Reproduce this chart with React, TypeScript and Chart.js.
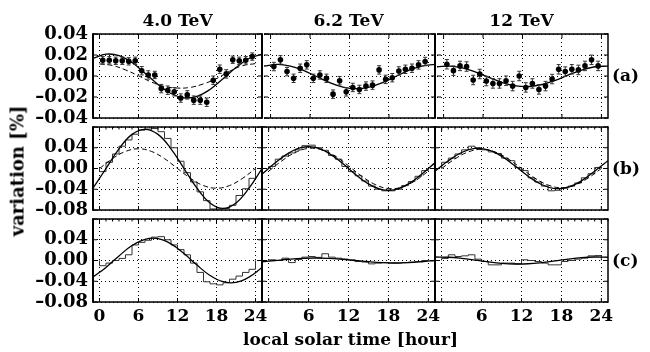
import React, { useEffect, useRef } from 'react';
import { Chart, registerables } from 'chart.js';

Chart.register(...registerables);

const energies = ['4.0 TeV', '6.2 TeV', '12 TeV'];
const rowTags = ['(a)', '(b)', '(c)'];
const xTitle = 'local solar time [hour]';
const yTitle = 'variation [%]';

const xTickValues = [0, 6, 12, 18, 24];
const yTicksA = [-0.04, -0.02, 0, 0.02, 0.04];
const yTicksBC = [-0.08, -0.04, 0, 0.04, 0.08];

const binCentres = [0.5, 1.5, 2.5, 3.5, 4.5, 5.5, 6.5, 7.5, 8.5, 9.5, 10.5, 11.5, 12.5, 13.5, 14.5, 15.5, 16.5, 17.5, 18.5, 19.5, 20.5, 21.5, 22.5, 23.5];
const binEdges = [0, 1, 2, 3, 4, 5, 6, 7, 8, 9, 10, 11, 12, 13, 14, 15, 16, 17, 18, 19, 20, 21, 22, 23, 24];
const fitHours = [-1, 1, 3, 5, 7, 9, 11, 13, 15, 17, 19, 21, 23, 25];
const dashHours = [0, 2, 4, 6, 8, 10, 12, 14, 16, 18, 20, 22, 24];

const pts4 = [0.015, 0.015, 0.0145, 0.0145, 0.014, 0.0145, 0.005, 0.001, 0.001, -0.012, -0.0135, -0.015, -0.021, -0.018, -0.023, -0.023, -0.025, -0.004, 0.0065, 0.002, 0.0155, 0.0145, 0.015, 0.0185];
const err4 = [0.0035, 0.0035, 0.0035, 0.0035, 0.0035, 0.0035, 0.004, 0.004, 0.0035, 0.004, 0.004, 0.004, 0.004, 0.004, 0.004, 0.004, 0.004, 0.004, 0.004, 0.004, 0.0035, 0.0035, 0.0035, 0.0035];
const pts6 = [0.009, 0.0154, 0.0042, -0.0022, 0.0074, 0.0106, -0.0022, 0.001, -0.0022, -0.0173, -0.0045, -0.0151, -0.0109, -0.0128, -0.0096, -0.0087, 0.0058, -0.0032, -0.0016, 0.0048, 0.0064, 0.0074, 0.0106, 0.0138];
const err6 = [0.004, 0.004, 0.004, 0.004, 0.004, 0.004, 0.004, 0.004, 0.004, 0.004, 0.004, 0.004, 0.004, 0.004, 0.004, 0.004, 0.004, 0.004, 0.004, 0.004, 0.004, 0.004, 0.004, 0.004];
const pts12 = [0.0112, 0.0051, 0.0096, 0.009, -0.0038, 0.0019, -0.0048, -0.0071, -0.0071, -0.0045, -0.0096, 0.0, -0.0109, -0.0071, -0.0128, -0.0096, -0.0029, 0.0064, 0.0042, 0.0064, 0.0058, 0.0096, 0.0154, 0.0096];
const err12 = [0.0045, 0.0045, 0.0045, 0.0045, 0.0045, 0.0045, 0.0045, 0.0045, 0.0045, 0.0045, 0.0045, 0.0045, 0.0045, 0.0045, 0.0045, 0.0045, 0.0045, 0.0045, 0.0045, 0.0045, 0.0045, 0.0045, 0.0045, 0.0045];

const fitA4 = [0.0167, 0.0208, 0.0194, 0.0128, 0.0027, -0.008, -0.0167, -0.0208, -0.0194, -0.0128, -0.0027, 0.008, 0.0167, 0.0208];
const dashA4 = [0.0115, 0.01, 0.0058, 0.0002, -0.0058, -0.01, -0.0115, -0.0108, -0.0075, -0.0025, 0.0045, 0.0098, 0.0118];
const fitA6 = [0.0095, 0.011, 0.0095, 0.0053, -0.0005, -0.0063, -0.0105, -0.012, -0.0105, -0.0063, -0.0005, 0.0053, 0.0095, 0.011];
const fitA12 = [0.0088, 0.0094, 0.0075, 0.0035, -0.0016, -0.0063, -0.0094, -0.01, -0.0081, -0.0041, 0.001, 0.0057, 0.0088, 0.0094];

const histB4 = [-0.006, 0.012, 0.028, 0.043, 0.055, 0.066, 0.074, 0.076, 0.077, 0.071, 0.058, 0.04, 0.014, -0.008, -0.026, -0.045, -0.062, -0.078, -0.078, -0.077, -0.071, -0.052, -0.039, -0.019];
const fitB4 = [-0.038, 0.0, 0.038, 0.0658, 0.0755, 0.0658, 0.038, 0.0, -0.038, -0.0665, -0.077, -0.0665, -0.038, 0.0];
const dashB4 = [0.0, 0.019, 0.0329, 0.038, 0.0329, 0.019, 0.0, -0.019, -0.0329, -0.038, -0.0329, -0.019, 0.0];
const histB6 = [0.004, 0.018, 0.024, 0.03, 0.036, 0.044, 0.045, 0.04, 0.035, 0.025, 0.018, 0.004, -0.006, -0.014, -0.024, -0.034, -0.04, -0.043, -0.043, -0.04, -0.033, -0.025, -0.015, -0.004];
const fitB6 = [-0.0109, 0.0109, 0.0297, 0.0406, 0.0406, 0.0297, 0.0109, -0.0109, -0.0297, -0.0406, -0.0406, -0.0297, -0.0109, 0.0109];
const dashB6 = [-0.0051, 0.0149, 0.0309, 0.0387, 0.036, 0.0238, 0.0051, -0.0149, -0.0309, -0.0387, -0.036, -0.0238, -0.0051];
const histB12 = [0.012, 0.02, 0.028, 0.036, 0.043, 0.04, 0.036, 0.032, 0.029, 0.02, 0.015, 0.002, -0.004, -0.018, -0.026, -0.034, -0.043, -0.042, -0.038, -0.034, -0.028, -0.018, -0.01, 0.002];
const fitB12 = [-0.0051, 0.0149, 0.0309, 0.0387, 0.036, 0.0238, 0.0051, -0.0149, -0.0309, -0.0387, -0.036, -0.0238, -0.0051, 0.0149];
const dashB12 = [0.0, 0.0185, 0.032, 0.037, 0.032, 0.0185, 0.0, -0.0185, -0.032, -0.037, -0.032, -0.0185, 0.0];

const histC4 = [-0.01, -0.005, 0.0, 0.004, 0.011, 0.03, 0.035, 0.039, 0.045, 0.046, 0.04, 0.03, 0.021, 0.011, -0.005, -0.023, -0.041, -0.045, -0.047, -0.043, -0.036, -0.03, -0.023, -0.017];
const fitC4 = [-0.032, -0.0133, 0.0089, 0.0288, 0.0409, 0.0421, 0.032, 0.0133, -0.0089, -0.0288, -0.0409, -0.0421, -0.032, -0.0133];
const histC6 = [0.0013, 0.0, 0.0045, -0.004, 0.002, 0.0065, 0.0077, 0.006, 0.013, 0.0065, 0.0045, 0.0026, 0.0013, -0.002, -0.003, -0.0065, -0.005, -0.004, -0.005, -0.005, -0.004, -0.003, -0.002, 0.0];
const fitC6 = [-0.0024, 0.0, 0.0024, 0.0042, 0.0048, 0.0042, 0.0024, 0.0, -0.0024, -0.0042, -0.0048, -0.0042, -0.0024, 0.0];
const histC12 = [0.004, 0.011, 0.0077, 0.009, 0.011, 0.0026, -0.002, -0.0084, -0.0084, -0.005, -0.005, -0.0065, 0.0013, 0.0, -0.002, -0.005, -0.0084, -0.0084, -0.002, 0.0, 0.0026, 0.0045, 0.009, 0.0095];
const fitC12 = [0.0067, 0.0063, 0.0041, 0.0009, -0.0026, -0.0054, -0.0067, -0.0063, -0.0041, -0.0009, 0.0026, 0.0054, 0.0067, 0.0063];

const FONT = 'DejaVu Serif';
const zip = (xs: number[], ys: number[]) => xs.map((x, i) => ({ x, y: ys[i] }));

function fitDs(vals: number[]) {
  return { type: 'line', data: zip(fitHours, vals), borderColor: '#000', borderWidth: 1.3, pointRadius: 0, tension: 0.4, fill: false };
}
function dashDs(vals: number[]) {
  return { type: 'line', data: zip(dashHours, vals), borderColor: '#000', borderWidth: 1, borderDash: [5, 3], pointRadius: 0, tension: 0.4, fill: false };
}
function histDs(vals: number[]) {
  const data: { x: number; y: number }[] = [{ x: binEdges[0], y: 0 }];
  vals.forEach((v, i) => data.push({ x: binEdges[i], y: v }));
  data.push({ x: binEdges[vals.length], y: vals[vals.length - 1] });
  data.push({ x: binEdges[vals.length], y: 0 });
  return { type: 'line', data, stepped: true, borderColor: '#333', borderWidth: 1, pointRadius: 0, fill: false };
}
function pointDs(vals: number[]) {
  return { type: 'line', data: zip(binCentres, vals), showLine: false, pointRadius: 2.8, pointStyle: 'circle', pointBackgroundColor: '#000', pointBorderColor: '#000', pointBorderWidth: 0 };
}
function errDs(vals: number[], errs: number[]) {
  const data: { x: number; y: number | null }[] = [];
  vals.forEach((v, i) => {
    data.push({ x: binCentres[i], y: v - errs[i] });
    data.push({ x: binCentres[i], y: v + errs[i] });
    data.push({ x: binCentres[i], y: null });
  });
  return { type: 'line', data, borderColor: '#333', borderWidth: 1, pointStyle: 'line', pointRadius: 2, pointBorderColor: '#333', pointBorderWidth: 1, spanGaps: false, tension: 0 };
}

const panels = [
  { col: 0, row: 0, sets: [pointDs(pts4), errDs(pts4, err4), fitDs(fitA4), dashDs(dashA4)] },
  { col: 1, row: 0, sets: [pointDs(pts6), errDs(pts6, err6), fitDs(fitA6)] },
  { col: 2, row: 0, sets: [pointDs(pts12), errDs(pts12, err12), fitDs(fitA12)] },
  { col: 0, row: 1, sets: [fitDs(fitB4), dashDs(dashB4), histDs(histB4)] },
  { col: 1, row: 1, sets: [fitDs(fitB6), dashDs(dashB6), histDs(histB6)] },
  { col: 2, row: 1, sets: [fitDs(fitB12), dashDs(dashB12), histDs(histB12)] },
  { col: 0, row: 2, sets: [fitDs(fitC4), histDs(histC4)] },
  { col: 1, row: 2, sets: [fitDs(fitC6), histDs(histC6)] },
  { col: 2, row: 2, sets: [fitDs(fitC12), histDs(histC12)] },
];

const colX = [[93, 262], [262, 435], [435, 608]];
const rowY = [[34, 118], [127, 210], [219, 302]];

function geom(p: { col: number; row: number }) {
  const L = p.col === 0 ? 93 : 3;
  const R = 16;
  const T = 12;
  const B = p.row === 2 ? 34 : 12;
  const [x0, x1] = colX[p.col];
  const [y0, y1] = rowY[p.row];
  return { L, R, T, B, x: x0 - L, y: y0 - T, w: L + (x1 - x0) + R, h: T + (y1 - y0) + B };
}

function framePlugin(p: { col: number; row: number }) {
  const minor = p.row > 0;
  return {
    id: 'frame',
    afterDatasetsDraw(chart: any) {
      const { ctx, chartArea: a, scales } = chart;
      ctx.save();
      ctx.strokeStyle = '#000';
      ctx.lineWidth = 1;
      ctx.beginPath();
      scales.x.ticks.forEach((t: any) => {
        const px = scales.x.getPixelForValue(t.value);
        ctx.moveTo(px, a.bottom); ctx.lineTo(px, a.bottom - 4);
        ctx.moveTo(px, a.top); ctx.lineTo(px, a.top + 4);
      });
      scales.y.ticks.forEach((t: any) => {
        const py = scales.y.getPixelForValue(t.value);
        ctx.moveTo(a.left, py); ctx.lineTo(a.left + 4, py);
        ctx.moveTo(a.right, py); ctx.lineTo(a.right - 4, py);
      });
      if (minor) {
        for (let h = scales.x.min; h <= scales.x.max; h++) {
          const px = scales.x.getPixelForValue(h);
          ctx.moveTo(px, a.top); ctx.lineTo(px, a.top + 2.5);
        }
      }
      ctx.stroke();
      ctx.lineWidth = 1.5;
      ctx.beginPath();
      ctx.moveTo(a.left, a.top); ctx.lineTo(a.right, a.top);
      ctx.moveTo(a.left, a.bottom); ctx.lineTo(a.right, a.bottom);
      ctx.stroke();
      ctx.lineWidth = p.col < 2 ? 2 : 1.5;
      ctx.beginPath();
      ctx.moveTo(a.right, a.top - 0.75); ctx.lineTo(a.right, a.bottom + 0.75);
      if (p.col === 0) { ctx.moveTo(a.left, a.top - 0.75); ctx.lineTo(a.left, a.bottom + 0.75); }
      ctx.stroke();
      ctx.restore();
    },
  };
}

function makeConfig(p: any, g: any): any {
  const yTicks = p.row === 0 ? yTicksA : yTicksBC;
  return {
    type: 'line',
    data: { datasets: p.sets },
    options: {
      responsive: false,
      animation: false,
      events: [],
      layout: { padding: { left: 0, right: g.R, top: g.T, bottom: 0 } },
      plugins: { legend: { display: false }, tooltip: { enabled: false }, title: { display: false } },
      scales: {
        x: {
          type: 'linear', min: -1, max: 25, position: 'bottom',
          afterBuildTicks: (s: any) => { s.ticks = xTickValues.map((v) => ({ value: v })); },
          afterFit: (s: any) => { s.height = g.B; s.paddingLeft = 0; s.paddingRight = 0; },
          grid: { color: '#000', lineWidth: 1, drawTicks: false },
          border: { display: false, dash: [1, 3] },
          ticks: {
            display: p.row === 2, autoSkip: false, maxRotation: 0, padding: 4, color: '#000',
            font: { family: FONT, size: 17, weight: 'bold' },
            callback: (v: number) => (p.col > 0 && v === 0 ? '' : String(v)),
          },
        },
        y: {
          type: 'linear', min: yTicks[0], max: yTicks[yTicks.length - 1], position: 'left',
          afterBuildTicks: (s: any) => { s.ticks = yTicks.map((v) => ({ value: v })); },
          afterFit: (s: any) => { s.width = g.L; s.paddingTop = 0; s.paddingBottom = 0; },
          grid: { color: '#000', lineWidth: 1, drawTicks: false },
          border: { display: false, dash: [1, 3] },
          ticks: {
            display: p.col === 0, autoSkip: false, padding: 5, color: '#000',
            font: { family: FONT, size: 18, weight: 'bold' },
            callback: (v: number) => (v === 0.08 ? '' : (v < 0 ? '\u2013' : '') + Math.abs(v).toFixed(2)),
          },
        },
      },
    },
    plugins: [framePlugin(p)],
  };
}

const textBase: React.CSSProperties = {
  position: 'absolute', fontFamily: FONT, fontWeight: 'bold', fontSize: 17, lineHeight: '20px',
  color: '#000', whiteSpace: 'nowrap',
};

export default function App() {
  const refs = useRef<(HTMLCanvasElement | null)[]>([]);
  useEffect(() => {
    const charts = panels.map((p, i) => new Chart(refs.current[i] as HTMLCanvasElement, makeConfig(p, geom(p))));
    return () => charts.forEach((c) => c.destroy());
  }, []);

  return (
    <div style={{ position: 'absolute', left: 0, top: 0, width: 650, height: 352, background: '#fff', overflow: 'hidden' }}>
      {panels.map((p, i) => {
        const g = geom(p);
        return (
          <canvas
            key={i}
            ref={(el) => { refs.current[i] = el; }}
            width={g.w}
            height={g.h}
            style={{ position: 'absolute', left: g.x, top: g.y, width: g.w, height: g.h, display: 'block' }}
          />
        );
      })}
      {energies.map((e, i) => (
        <div key={e} style={{ ...textBase, left: colX[i][0], width: colX[i][1] - colX[i][0], top: 10, textAlign: 'center' }}>{e}</div>
      ))}
      {rowTags.map((t, i) => (
        <div key={t} style={{ ...textBase, left: 612, top: (rowY[i][0] + rowY[i][1]) / 2 - 11 }}>{t}</div>
      ))}
      <div style={{ ...textBase, left: 93, width: 608 - 93, top: 329, textAlign: 'center' }}>{xTitle}</div>
      <div style={{ ...textBase, fontSize: 18, lineHeight: '21px', left: 17, top: 171, transform: 'translate(-50%, -50%) rotate(-90deg)' }}>{yTitle}</div>
    </div>
  );
}
